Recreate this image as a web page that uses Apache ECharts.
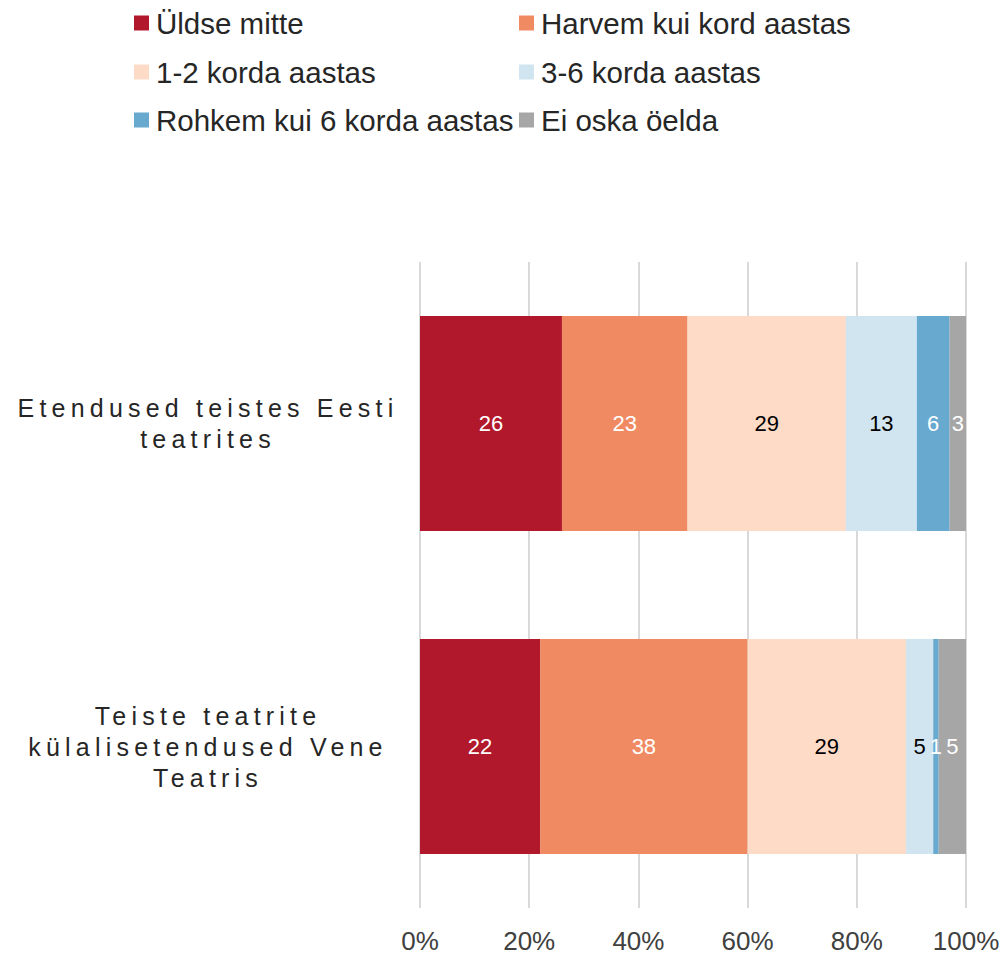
<!DOCTYPE html>
<html>
<head>
<meta charset="utf-8">
<script src="https://cdn.jsdelivr.net/npm/echarts@6/dist/echarts.min.js"></script>
<style>
  html, body { margin: 0; padding: 0; background: #fff; }
  #chart { width: 1007px; height: 955px; }
</style>
</head>
<body>
<div id="chart"></div>
<script>
// kategooriad (ülevalt alla)
var categories = [
  "Etendused teistes Eesti\nteatrites",
  "Teiste teatrite\nkülalisetendused Vene\nTeatris"
];
var seriesNames = [
  "Üldse mitte",
  "Harvem kui kord aastas",
  "1-2 korda aastas",
  "3-6 korda aastas",
  "Rohkem kui 6 korda aastas",
  "Ei oska öelda"
];
var uldseMitte = [26, 22];
var harvem = [23, 38];
var korda12 = [29, 29];
var korda36 = [13, 5];
var rohkem6 = [6, 1];
var eiOska = [3, 5];
var tickLabels = ["0%", "20%", "40%", "60%", "80%", "100%"];

var colors = ["#b2182b", "#ef8a62", "#fddbc7", "#d1e5f0", "#67a9cf", "#a6a6a6"];
var labelColors = ["#fff", "#fff", "#000", "#000", "#fff", "#fff"];
var values = [uldseMitte, harvem, korda12, korda36, rohkem6, eiOska];

var FONT = "Liberation Sans, Arial, sans-serif";

var legendPos = [
  [134, 8], [519, 8],
  [134, 57], [519, 57],
  [134, 105], [519, 105]
];

var legends = seriesNames.map(function (name, i) {
  return {
    data: [name],
    left: legendPos[i][0],
    top: legendPos[i][1],
    padding: 0,
    icon: "rect",
    itemWidth: 15,
    itemHeight: 15,
    selectedMode: false,
    textStyle: {
      fontFamily: FONT,
      fontSize: 29.5,
      color: "#262626",
      padding: [0, 0, 0, 2]
    }
  };
});

var series = seriesNames.map(function (name, i) {
  return {
    name: name,
    type: "bar",
    stack: "total",
    barWidth: "66.5%",
    itemStyle: { color: colors[i] },
    label: {
      show: true,
      position: "inside",
      color: labelColors[i],
      fontFamily: FONT,
      fontSize: 22
    },
    data: values[i]
  };
});

var option = {
  animation: false,
  backgroundColor: "#fff",
  legend: legends,
  grid: {
    left: 420,
    right: 41,
    top: 262,
    bottom: 47
  },
  xAxis: {
    type: "value",
    min: 0,
    max: 100,
    interval: 20,
    axisLine: { show: false },
    axisTick: { show: false },
    splitLine: { lineStyle: { color: "#d9d9d9", width: 2 } },
    axisLabel: {
      margin: 20,
      fontFamily: FONT,
      fontSize: 26,
      color: "#404040",
      formatter: function (v) {
        return tickLabels[v / 20];
      }
    }
  },
  yAxis: {
    type: "category",
    inverse: true,
    data: categories,
    axisLine: { show: false },
    axisTick: { show: false },
    axisLabel: {
      align: "center",
      margin: 212,
      fontFamily: FONT,
      fontSize: 25,
      lineHeight: 31,
      color: "#262626"
    }
  },
  series: series
};

var dom = document.getElementById("chart");
var chart = echarts.init(dom, null, { renderer: "svg" });

// ECharts ei toeta tähevahet, seega lisame selle SVG tekstidele hiljem
var spacedLines = [];
categories.forEach(function (c) {
  spacedLines = spacedLines.concat(c.split("\n"));
});
function applySpacing() {
  dom.querySelectorAll("text").forEach(function (t) {
    if (spacedLines.indexOf(t.textContent) >= 0) {
      t.setAttribute("letter-spacing", "5.2");
    }
  });
}
chart.on("finished", applySpacing);
chart.setOption(option);
applySpacing();
</script>
</body>
</html>
